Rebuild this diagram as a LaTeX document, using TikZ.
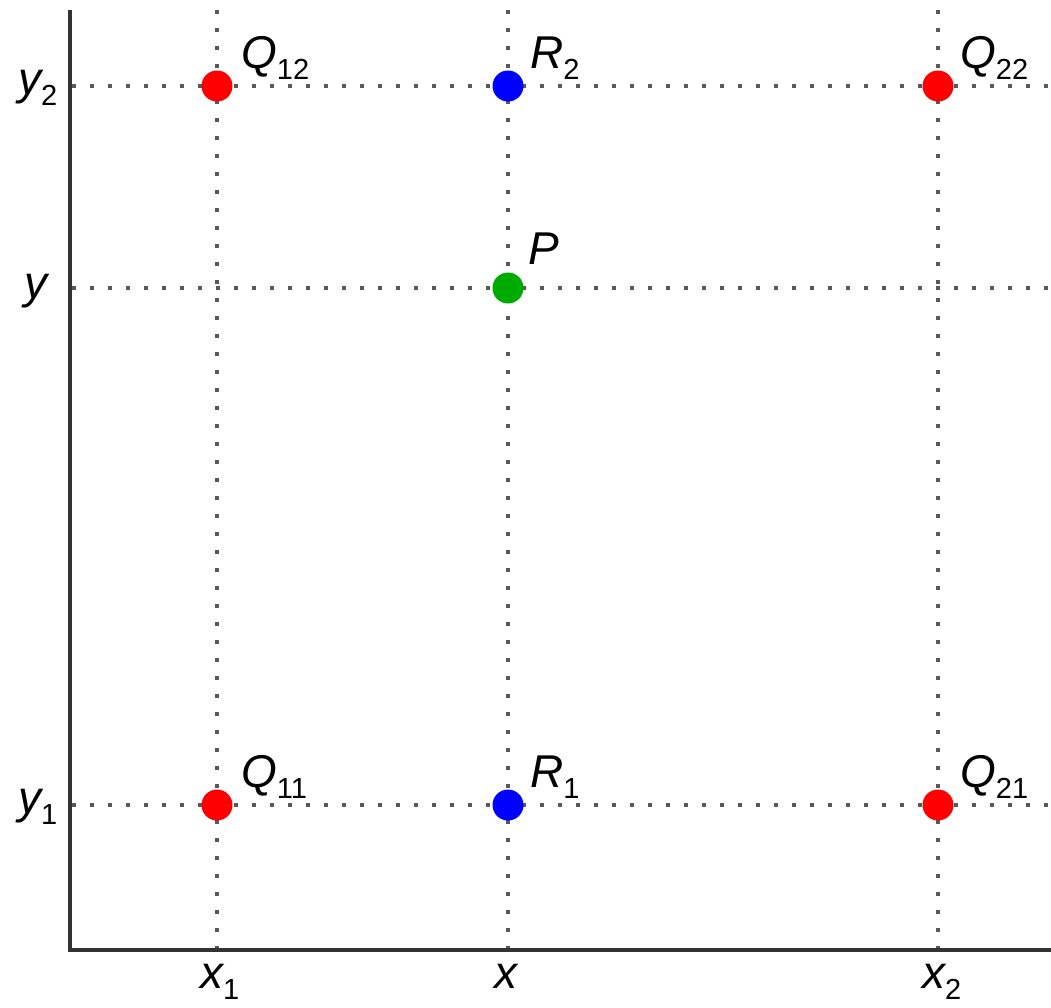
\documentclass[tikz,border=0pt]{standalone}
\usepackage{fontspec}
\setmainfont{Liberation Sans}
\newcommand\mysub[1]{\raisebox{-11pt}{\fontsize{29}{30}\selectfont\upshape #1}}
\begin{document}
\begin{tikzpicture}[x=1pt,y=-1pt,
  gridline/.style={line width=3.5pt, dash pattern=on 3.5pt off 14.5pt, black!65},
  axisline/.style={line width=4pt, black!80},
  dotpt/.style={circle, inner sep=0pt, minimum size=31pt},
  lab/.style={font=\fontsize{46}{50}\selectfont\itshape, inner sep=0pt, anchor=base west}]
\useasboundingbox (0,0) rectangle (1051,1007);
% grid line ends
\coordinate (vt1) at (217,10);  \coordinate (vb1) at (217,950);
\coordinate (vt2) at (508,10);  \coordinate (vb2) at (508,950);
\coordinate (vt3) at (938,10);  \coordinate (vb3) at (938,950);
\coordinate (hl1) at (72,86);   \coordinate (hr1) at (1051,86);
\coordinate (hl2) at (72,288);  \coordinate (hr2) at (1051,288);
\coordinate (hl3) at (72,805);  \coordinate (hr3) at (1051,805);
\draw[gridline] (vt1) -- (vb1);
\draw[gridline] (vt2) -- (vb2);
\draw[gridline] (vt3) -- (vb3);
\draw[gridline] (hl1) -- (hr1);
\draw[gridline] (hl2) -- (hr2);
\draw[gridline] (hl3) -- (hr3);
% axes
\coordinate (top) at (70,10);
\coordinate (orig) at (70,950);
\coordinate (right) at (1051,950);
\draw[axisline] (top) -- (orig) -- (right);
% points
\node[dotpt, fill=red] (Q12) at (217,86) {};
\node[dotpt, fill=blue] (R2) at (508,86) {};
\node[dotpt, fill=red] (Q22) at (938,86) {};
\node[dotpt, fill={rgb,1:red,0;green,0.67;blue,0}] (P) at (508,288) {};
\node[dotpt, fill=red] (Q11) at (217,805) {};
\node[dotpt, fill=blue] (R1) at (508,805) {};
\node[dotpt, fill=red] (Q21) at (938,805) {};
% point labels
\node[lab] (lQ12) at ([shift={(24,-18)}]Q12.center) {Q\mysub{12}};
\node[lab] (lR2) at ([shift={(22,-18)}]R2.center) {R\mysub{2}};
\node[lab] (lQ22) at ([shift={(22,-18)}]Q22.center) {Q\mysub{22}};
\node[lab] (lP) at ([shift={(20,-24)}]P.center) {P};
\node[lab] (lQ11) at ([shift={(24,-18)}]Q11.center) {Q\mysub{11}};
\node[lab] (lR1) at ([shift={(22,-18)}]R1.center) {R\mysub{1}};
\node[lab] (lQ21) at ([shift={(22,-18)}]Q21.center) {Q\mysub{21}};
% axis labels
\node[lab] (ly2) at (18,94) {y\mysub{2}};
\node[lab] (ly) at (24,298) {y};
\node[lab] (ly1) at (18,813) {y\mysub{1}};
\node[lab] (lx1) at (200,988) {x\mysub{1}};
\node[lab] (lx) at (494,988) {x};
\node[lab] (lx2) at (922,988) {x\mysub{2}};
\end{tikzpicture}
\end{document}
